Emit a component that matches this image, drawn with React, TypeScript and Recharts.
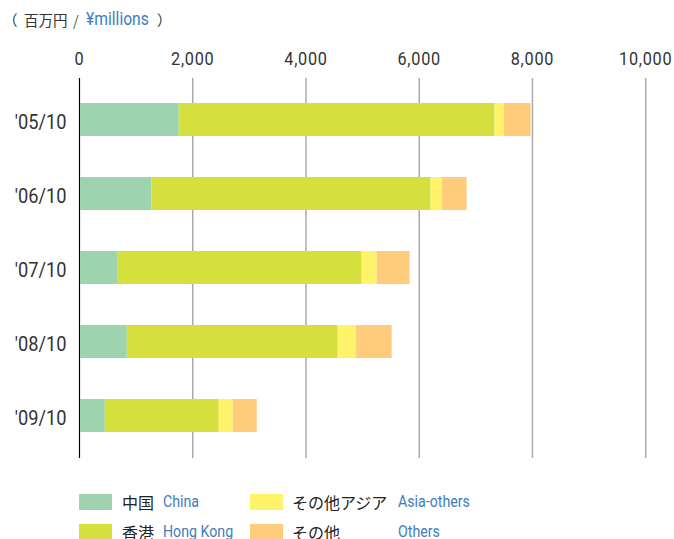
import React from 'react';
import { BarChart, Bar, XAxis, YAxis, CartesianGrid } from 'recharts';

const categories = ["'05/10", "'06/10", "'07/10", "'08/10", "'09/10"];
const chinaValues = [1753, 1271, 676, 835, 447];
const hongKongValues = [5578, 4930, 4307, 3725, 2012];
const asiaOthersValues = [159, 194, 265, 317, 247];
const othersValues = [476, 442, 582, 636, 424];
const xTicks = [0, 2000, 4000, 6000, 8000, 10000];

const data = categories.map((cat, i) => ({
  cat,
  china: chinaValues[i],
  hk: hongKongValues[i],
  asia: asiaOthersValues[i],
  others: othersValues[i],
}));

const COLORS = {
  china: '#9dd3ae',
  hk: '#d5e03f',
  asia: '#fff36a',
  others: '#ffcc7b',
};

const NUM_FONT = "'Roboto', sans-serif";
const JP_FONT = "'Noto Sans CJK JP', sans-serif";
const BLUE = '#3d7dbd';
const TEXT = '#333333';

const XTick = (props: any) => {
  const { x, y, payload } = props;
  return (
    <text
      transform={`translate(${x} ${y}) scale(0.93 1)`}
      x={0}
      y={0}
      textAnchor="middle"
      fill={TEXT}
      fontFamily={NUM_FONT}
      fontSize={17.5}
      letterSpacing={0.8}
    >
      {Number(payload.value).toLocaleString('en-US')}
    </text>
  );
};

const YTick = (props: any) => {
  const { x, y, payload } = props;
  return (
    <text
      transform={`translate(${x} ${y + 9.5}) scale(0.89 1)`}
      x={0}
      y={0}
      textAnchor="end"
      fill={TEXT}
      fontFamily={NUM_FONT}
      fontSize={20.5}
    >
      {payload.value}
    </text>
  );
};

const legendItems = [
  { color: COLORS.china, jp: '中国', en: 'China', x: 79, row: 0 },
  { color: COLORS.hk, jp: '香港', en: 'Hong Kong', x: 79, row: 1 },
  { color: COLORS.asia, jp: 'その他アジア', en: 'Asia-others', x: 250, row: 0 },
  { color: COLORS.others, jp: 'その他', en: 'Others', x: 250, row: 1 },
];

const narrow = (scale: number): React.CSSProperties => ({
  display: 'inline-block',
  transform: `scaleX(${scale})`,
  transformOrigin: 'left center',
});

export default function App() {
  const headerBase: React.CSSProperties = {
    position: 'absolute',
    top: 10,
    fontSize: 14.5,
    lineHeight: '20px',
    fontFamily: JP_FONT,
    color: TEXT,
    whiteSpace: 'nowrap',
  };
  return (
    <div style={{ position: 'absolute', left: 0, top: 0, width: 674, height: 539, background: '#fff', overflow: 'hidden' }}>
      <div style={{ ...headerBase, left: 3 }}>（</div>
      <div style={{ ...headerBase, left: 24 }}>百万円</div>
      <div style={{ ...headerBase, left: 73, color: '#555' }}>/</div>
      <div style={{ ...headerBase, left: 86, top: 9, color: BLUE, fontFamily: NUM_FONT, fontSize: 18 }}>
        <span style={narrow(0.87)}>¥millions</span>
      </div>
      <div style={{ ...headerBase, left: 157 }}>）</div>
      <div style={{ position: 'absolute', left: 0, top: 0 }}>
        <BarChart
          width={674}
          height={470}
          data={data}
          layout="vertical"
          margin={{ top: 48, right: 28.3, bottom: 12, left: 0 }}
        >
          <CartesianGrid horizontal={false} vertical={true} stroke="#aaaaaa" strokeWidth={1.5} />
          <XAxis
            type="number"
            orientation="top"
            domain={[0, 10000]}
            ticks={xTicks}
            axisLine={false}
            tickLine={false}
            tickSize={0}
            tickMargin={13}
            height={30}
            tick={<XTick />}
            interval={0}
          />
          <YAxis
            type="category"
            dataKey="cat"
            width={79.5}
            axisLine={{ stroke: '#000', strokeWidth: 1 }}
            tickLine={false}
            tickSize={0}
            tickMargin={13}
            padding={{ top: 4, bottom: 6 }}
            tick={<YTick />}
            interval={0}
          />
          <Bar dataKey="china" stackId="a" fill={COLORS.china} barSize={33} isAnimationActive={false} />
          <Bar dataKey="hk" stackId="a" fill={COLORS.hk} barSize={33} isAnimationActive={false} />
          <Bar dataKey="asia" stackId="a" fill={COLORS.asia} barSize={33} isAnimationActive={false} />
          <Bar dataKey="others" stackId="a" fill={COLORS.others} barSize={33} isAnimationActive={false} />
        </BarChart>
      </div>
      {legendItems.map((it) => {
        const top = it.row === 0 ? 494 : 524;
        return (
          <React.Fragment key={it.en}>
            <div style={{ position: 'absolute', left: it.x, top, width: 33, height: 16, background: it.color }} />
            <div
              style={{
                position: 'absolute',
                left: it.x === 79 ? 122 : 292,
                top: top - 3,
                fontFamily: JP_FONT,
                fontSize: 16,
                lineHeight: '22px',
                color: '#222',
                whiteSpace: 'nowrap',
              }}
            >
              {it.jp}
            </div>
            <div
              style={{
                position: 'absolute',
                left: it.x === 79 ? 163 : 398,
                top: top - 3,
                fontFamily: NUM_FONT,
                fontSize: 16.5,
                lineHeight: '22px',
                color: BLUE,
                whiteSpace: 'nowrap',
              }}
            >
              <span style={narrow(0.86)}>{it.en}</span>
            </div>
          </React.Fragment>
        );
      })}
    </div>
  );
}
